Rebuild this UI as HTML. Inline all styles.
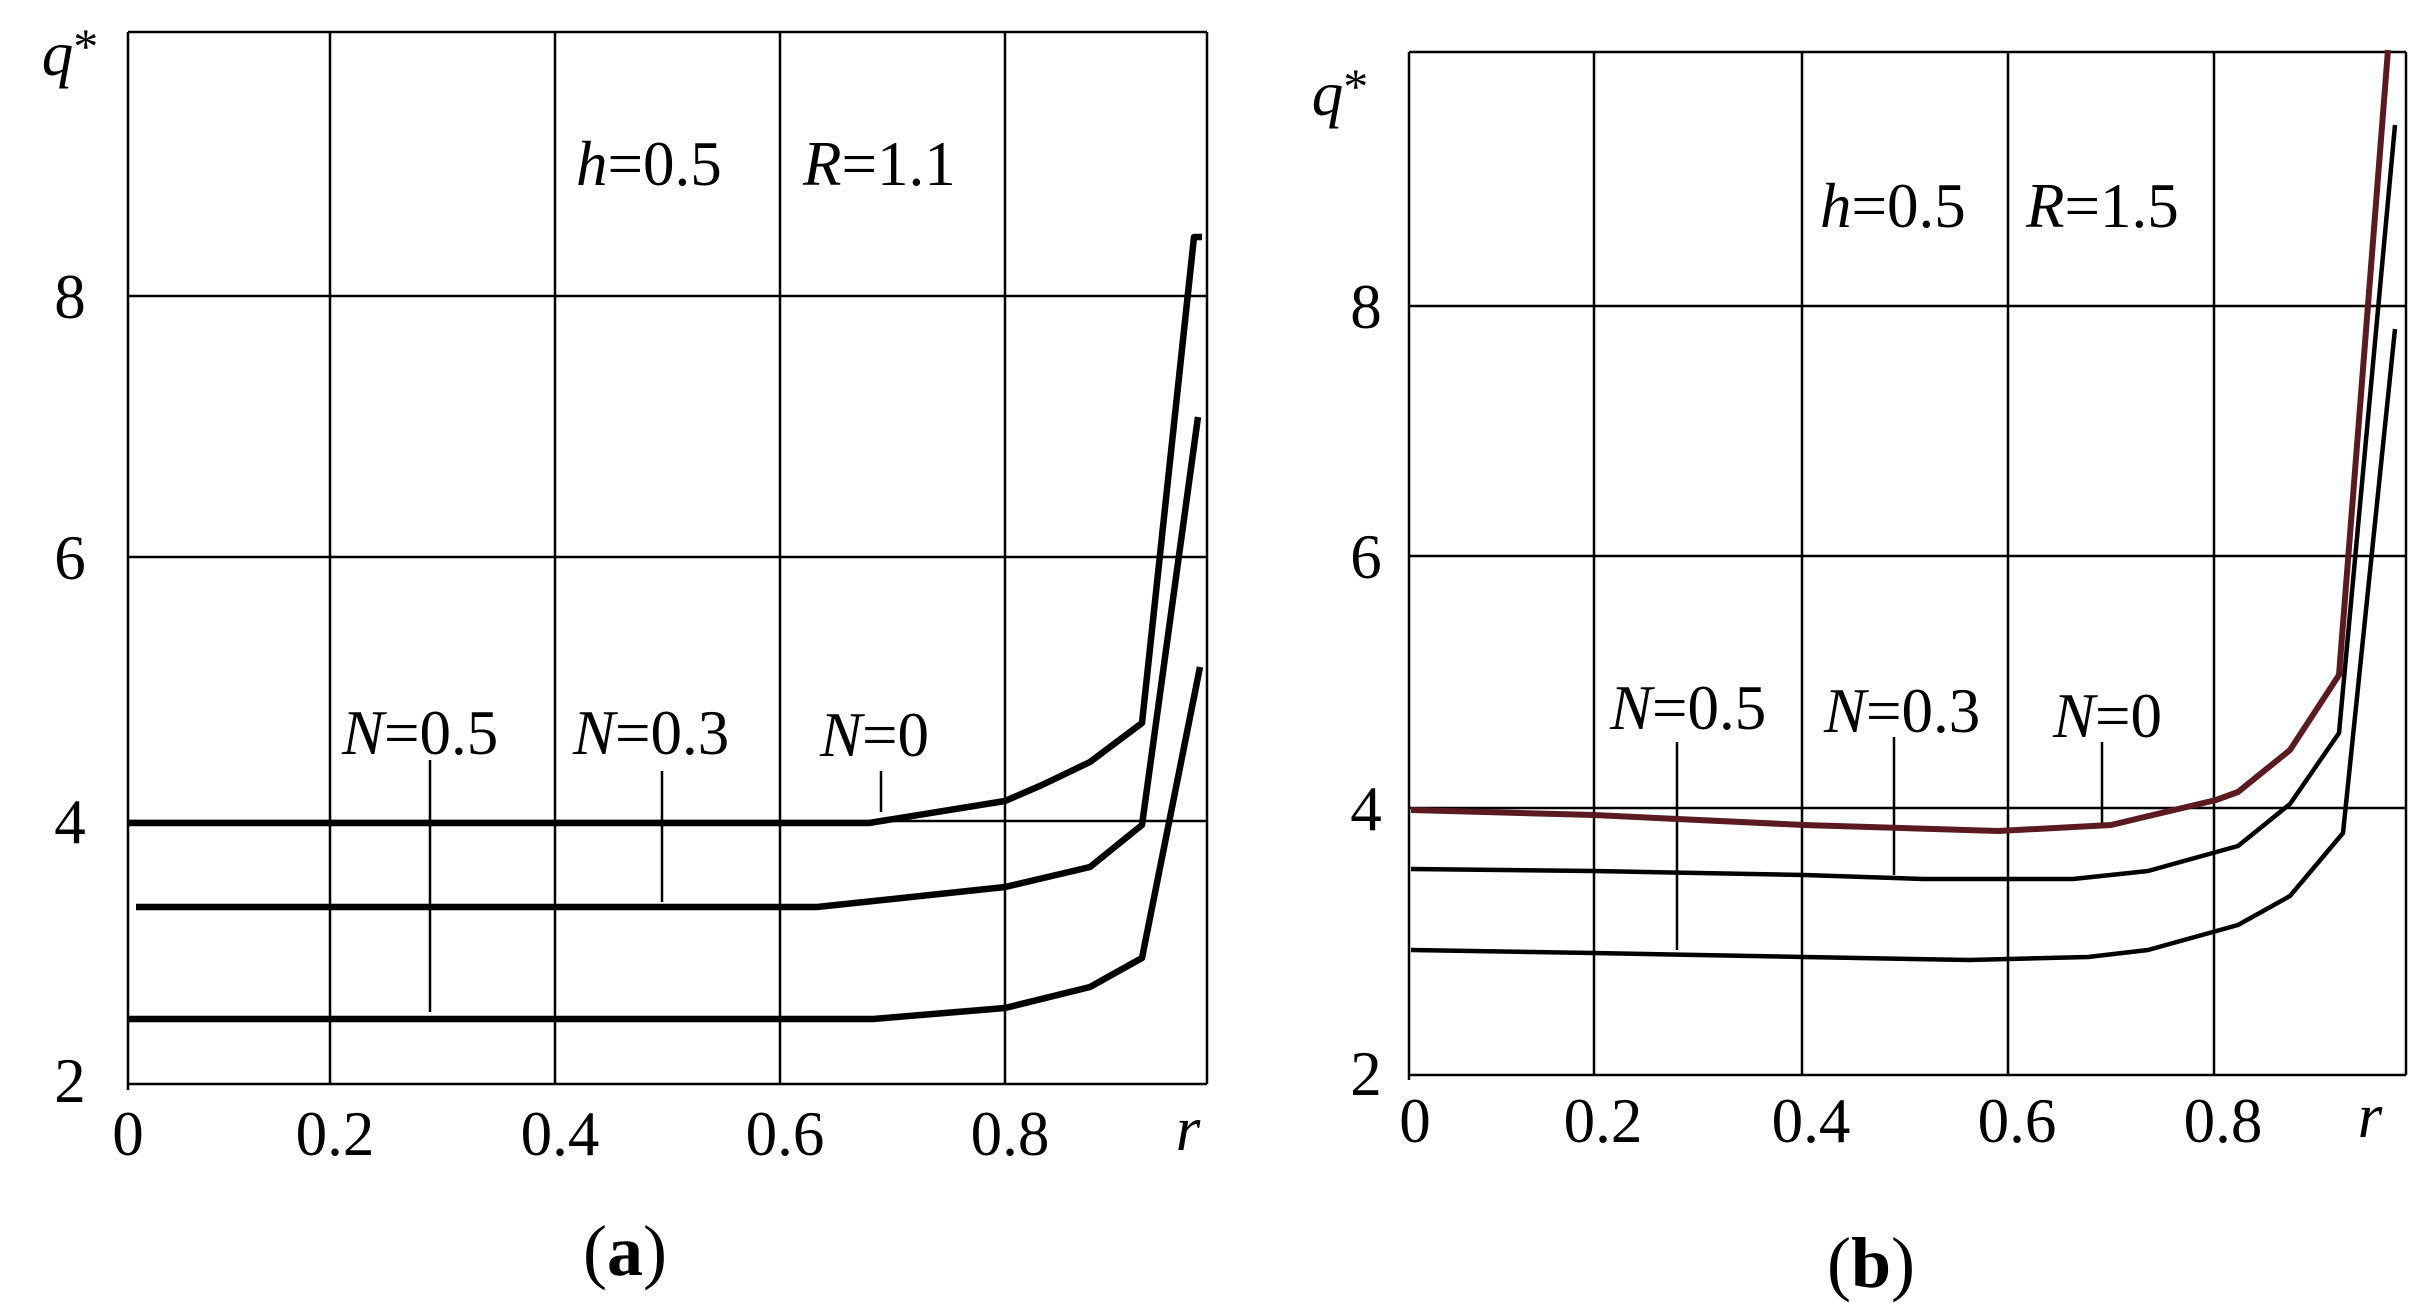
<!DOCTYPE html>
<html><head><meta charset="utf-8"><style>html,body{margin:0;padding:0;background:#fff}svg{display:block}</style></head>
<body>
<svg width="2418" height="1307" viewBox="0 0 2418 1307" xmlns="http://www.w3.org/2000/svg" font-family="Liberation Serif, serif">
<rect width="2418" height="1307" fill="#fff"/>
<!-- LEFT -->
<g stroke="#000" stroke-width="2.5" fill="none">
<line x1="128" y1="32" x2="1207" y2="32"/>
<line x1="128" y1="296" x2="1207" y2="296"/>
<line x1="128" y1="557" x2="1207" y2="557"/>
<line x1="128" y1="821" x2="1207" y2="821"/>
<line x1="128" y1="1084" x2="1207" y2="1084"/>
<line x1="128" y1="32" x2="128" y2="1090"/>
<line x1="330" y1="32" x2="330" y2="1084"/>
<line x1="555" y1="32" x2="555" y2="1084"/>
<line x1="780" y1="32" x2="780" y2="1084"/>
<line x1="1005" y1="32" x2="1005" y2="1084"/>
<line x1="1207" y1="32" x2="1207" y2="1084"/>
<line x1="430" y1="760" x2="430" y2="1012"/>
<line x1="662" y1="771" x2="662" y2="902"/>
<line x1="881" y1="771" x2="881" y2="812"/>
</g>
<g stroke="#000" stroke-width="6.5" fill="none" stroke-linejoin="round">
<polyline points="128,823 869,823 1005,801 1042,785 1090,762 1142,723 1194,237 1202,237"/>
<polyline points="136,907 817,907 1005,887 1090,867 1142,825 1198,417"/>
<polyline points="128,1019 873,1019 1005,1008 1090,987 1142,958 1200,667"/>
</g>
<g font-size="63" fill="#000">
<text x="70" y="75" font-style="italic" text-anchor="middle">q<tspan font-style="normal" dy="-12" font-size="50">*</tspan></text>
<text x="70" y="318" text-anchor="middle">8</text>
<text x="70" y="579" text-anchor="middle">6</text>
<text x="70" y="843" text-anchor="middle">4</text>
<text x="70" y="1102" text-anchor="middle">2</text>
<text x="128" y="1155" text-anchor="middle">0</text>
<text x="335" y="1155" text-anchor="middle">0.2</text>
<text x="560" y="1155" text-anchor="middle">0.4</text>
<text x="785" y="1155" text-anchor="middle">0.6</text>
<text x="1010" y="1155" text-anchor="middle">0.8</text>
<text x="1188" y="1150" font-style="italic" text-anchor="middle">r</text>
<text x="576" y="185"><tspan font-style="italic">h</tspan>=0.5</text>
<text x="803" y="185"><tspan font-style="italic">R</tspan>=1.1</text>
<text x="342" y="754"><tspan font-style="italic">N</tspan>=0.5</text>
<text x="573" y="754"><tspan font-style="italic">N</tspan>=0.3</text>
<text x="820" y="756"><tspan font-style="italic">N</tspan>=0</text>
</g>
<text x="625" y="1275" text-anchor="middle" font-size="72">(<tspan font-weight="bold">a</tspan>)</text>
<!-- RIGHT -->
<g stroke="#000" stroke-width="2.5" fill="none">
<line x1="1409" y1="52" x2="2406" y2="52"/>
<line x1="1409" y1="306" x2="2406" y2="306"/>
<line x1="1409" y1="556" x2="2406" y2="556"/>
<line x1="1409" y1="808" x2="2406" y2="808"/>
<line x1="1409" y1="1075" x2="2406" y2="1075"/>
<line x1="1409" y1="52" x2="1409" y2="1080"/>
<line x1="1594" y1="52" x2="1594" y2="1075"/>
<line x1="1802" y1="52" x2="1802" y2="1075"/>
<line x1="2008" y1="52" x2="2008" y2="1075"/>
<line x1="2214" y1="52" x2="2214" y2="1075"/>
<line x1="2406" y1="52" x2="2406" y2="1075"/>
<line x1="1677" y1="742" x2="1677" y2="950"/>
<line x1="1894" y1="737" x2="1894" y2="875"/>
<line x1="2102" y1="742" x2="2102" y2="825"/>
</g>
<g stroke-width="4.5" fill="none" stroke-linejoin="round">
<polyline stroke="#000" points="1411,950 1594,953 1804,957 1969,960 2088,957 2148,950 2238,925 2290,896 2343,833 2395,329"/>
<polyline stroke="#000" points="1411,869 1594,871 1804,875 1924,879 2073,879 2148,871 2238,846 2290,804 2339,733 2395,125"/>
<polyline stroke="#5a1a1f" stroke-width="6" points="1411,810 1594,815 1804,825 1998,831 2111,825 2216,800 2238,792 2290,750 2339,675 2388,50"/>
</g>
<g font-size="63" fill="#000">
<text x="1340" y="115" font-style="italic" text-anchor="middle">q<tspan font-style="normal" dy="-12" font-size="50">*</tspan></text>
<text x="1366" y="328" text-anchor="middle">8</text>
<text x="1366" y="578" text-anchor="middle">6</text>
<text x="1366" y="830" text-anchor="middle">4</text>
<text x="1366" y="1095" text-anchor="middle">2</text>
<text x="1415" y="1142" text-anchor="middle">0</text>
<text x="1603" y="1142" text-anchor="middle">0.2</text>
<text x="1811" y="1142" text-anchor="middle">0.4</text>
<text x="2017" y="1142" text-anchor="middle">0.6</text>
<text x="2223" y="1142" text-anchor="middle">0.8</text>
<text x="2370" y="1137" font-style="italic" text-anchor="middle">r</text>
<text x="1820" y="227"><tspan font-style="italic">h</tspan>=0.5</text>
<text x="2026" y="227"><tspan font-style="italic">R</tspan>=1.5</text>
<text x="1610" y="729"><tspan font-style="italic">N</tspan>=0.5</text>
<text x="1824" y="732"><tspan font-style="italic">N</tspan>=0.3</text>
<text x="2053" y="737"><tspan font-style="italic">N</tspan>=0</text>
</g>
<text x="1871" y="1287" text-anchor="middle" font-size="72">(<tspan font-weight="bold">b</tspan>)</text>
</svg>
</body></html>
